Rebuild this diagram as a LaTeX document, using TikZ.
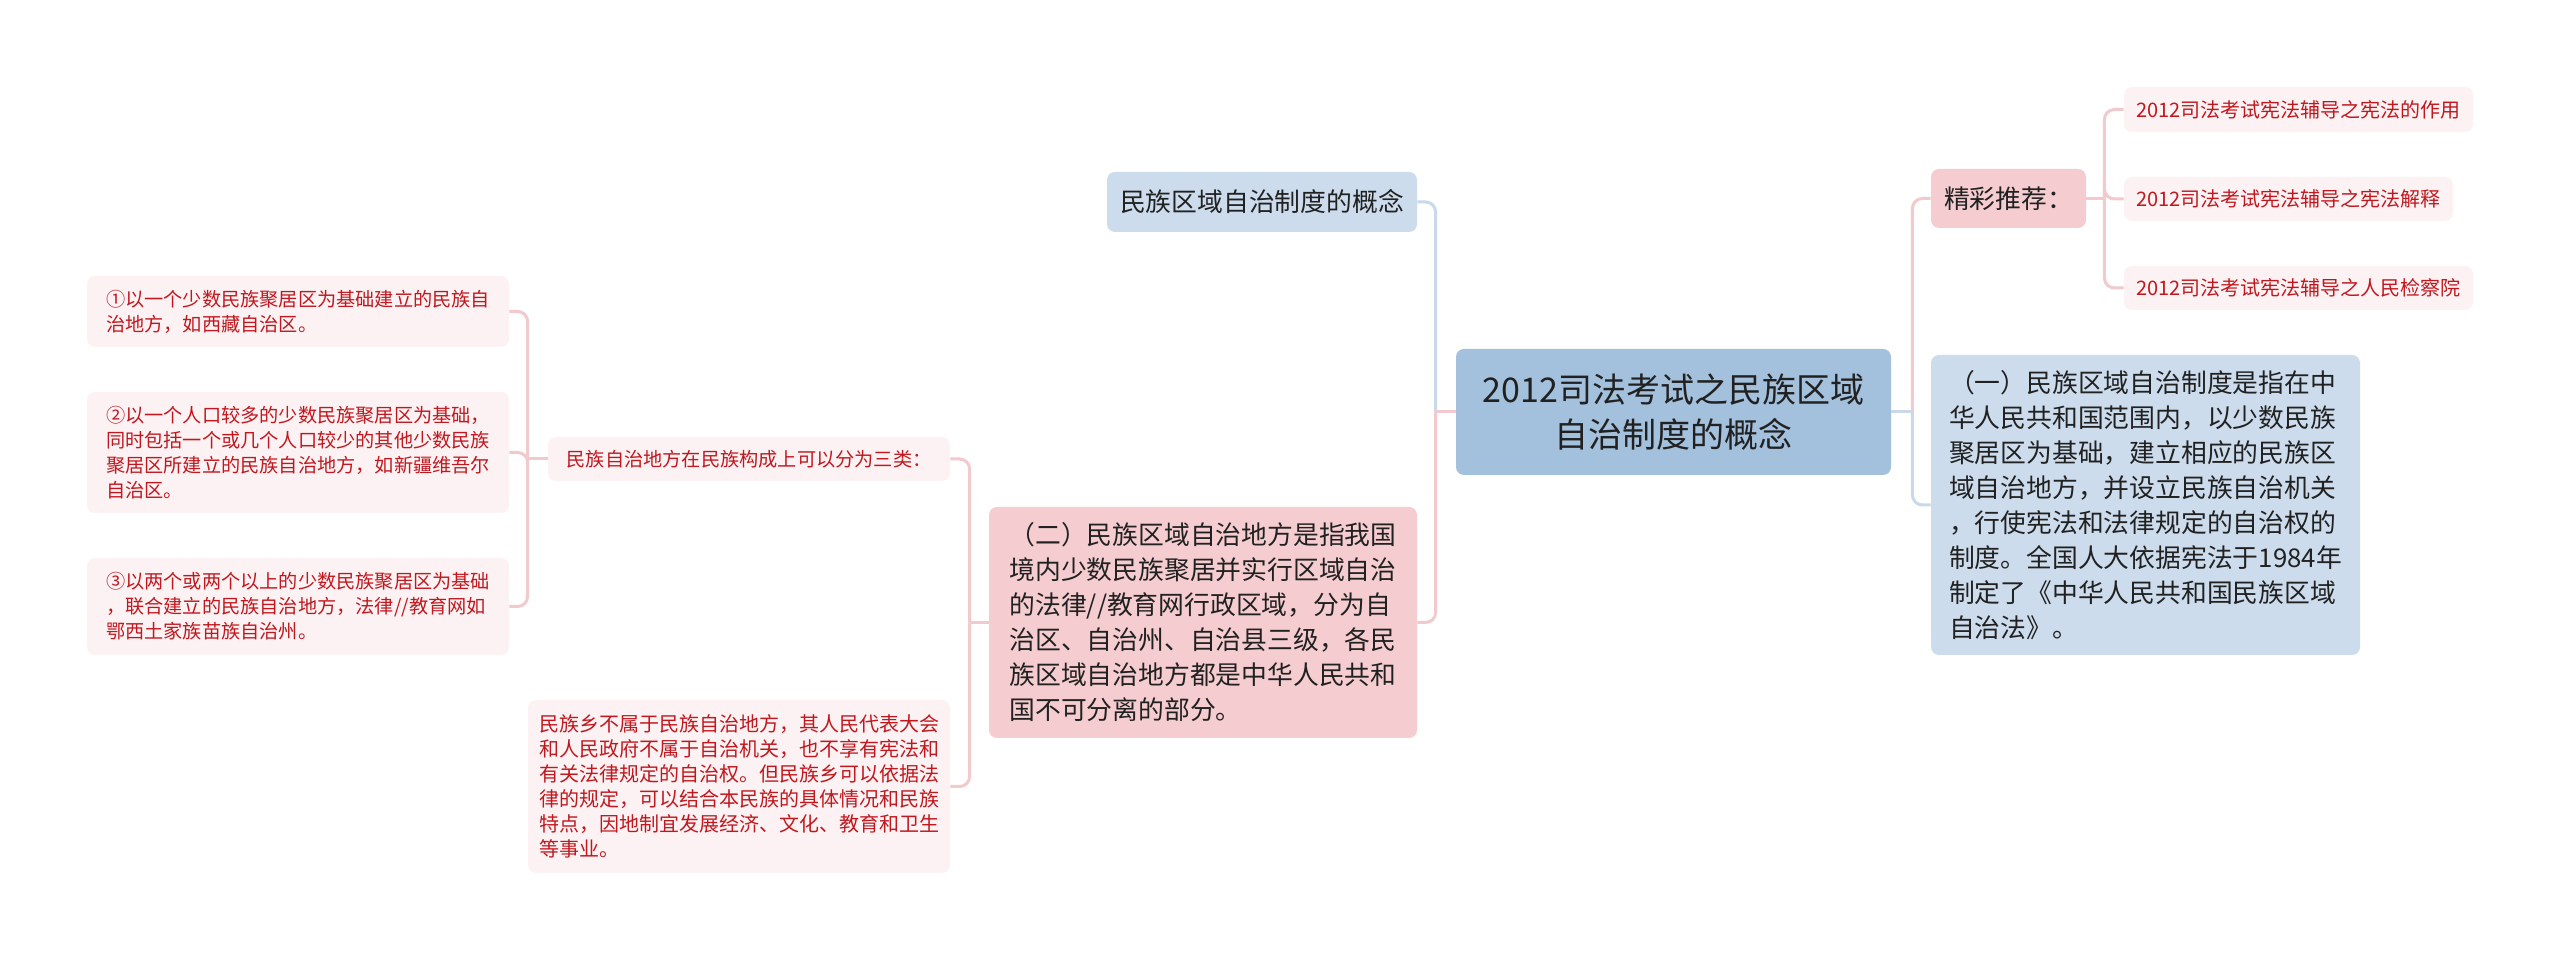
\documentclass[tikz,border=0pt]{standalone}
\usepackage{fontspec}
\setmainfont{Noto Sans CJK SC}
\usetikzlibrary{positioning}
\definecolor{rootblue}{HTML}{A3C0DC}
\definecolor{paleblue}{HTML}{CCDCEC}
\definecolor{palepink}{HTML}{F5CDD0}
\definecolor{leafpink}{HTML}{FDF2F3}
\definecolor{leafred}{HTML}{C0181F}
\definecolor{linkpink}{HTML}{F2C9CC}
\definecolor{linkblue}{HTML}{C9D9EA}
\tikzset{
box/.style={rounded corners=4pt, inner sep=0pt, align=left, text=black!87},
rootbox/.style={box, fill=rootblue, align=center,
  font=\fontsize{17pt}{22.5pt}\selectfont},
bluebox/.style={box, fill=paleblue, font=\fontsize{12.9pt}{17.5pt}\selectfont},
pinkbox/.style={box, fill=palepink, font=\fontsize{12.9pt}{17.5pt}\selectfont},
leafbox/.style={box, fill=leafpink, text=leafred,
  font=\fontsize{9.6pt}{12.5pt}\selectfont},
reclink/.style={box, fill=leafpink, text=leafred,
  font=\fontsize{10pt}{12pt}\selectfont},
pinklink/.style={draw=linkpink, line width=1.5pt, rounded corners=5pt},
bluelink/.style={draw=linkblue, line width=1.5pt, rounded corners=5pt}
}

\begin{document}
\begin{tikzpicture}[x=0.5pt, y=-0.5pt]
	\fill[white] (0,0) rectangle (2560,961);
	\useasboundingbox (0,0) rectangle (2560,961);
	\node[rootbox, minimum width=217.5pt, minimum height=63pt] (root) at (1673.5,412)
		{2012司法考试之民族区域\\自治制度的概念};
	\node[pinkbox, minimum width=77.5pt, minimum height=29.5pt] (jingcai) at (2008.5,198.5)
		{精彩推荐：};
	\node[reclink, minimum width=174.5pt, minimum height=22.5pt] (rec1) at (2298.5,109.5)
		{2012司法考试宪法辅导之宪法的作用};
	\node[reclink, minimum width=164.5pt, minimum height=22pt] (rec2) at (2288.5,199)
		{2012司法考试宪法辅导之宪法解释};
	\node[reclink, minimum width=174.5pt, minimum height=22pt] (rec3) at (2298.5,288)
		{2012司法考试宪法辅导之人民检察院};
	\node[bluebox, minimum width=214.5pt, minimum height=150pt] (def1) at (2145.5,505)
		{（一）民族区域自治制度是指在中\\华人民共和国范围内，以少数民族\\聚居区为基础，建立相应的民族区\\域自治地方，并设立民族自治机关\\，行使宪法和法律规定的自治权的\\制度。全国人大依据宪法于1984年\\制定了《中华人民共和国民族区域\\自治法》。};
	\node[bluebox, minimum width=155pt, minimum height=30pt] (concept) at (1262,202)
		{民族区域自治制度的概念};
	\node[pinkbox, minimum width=214pt, minimum height=115.5pt] (def2) at (1203,622.5)
		{（二）民族区域自治地方是指我国\\境内少数民族聚居并实行区域自治\\的法律//教育网行政区域，分为自\\治区、自治州、自治县三级，各民\\族区域自治地方都是中华人民共和\\国不可分离的部分。};
	\node[leafbox, minimum width=201pt, minimum height=22pt] (types) at (749,459)
		{民族自治地方在民族构成上可以分为三类：};
	\node[leafbox, minimum width=211pt, minimum height=86.5pt,
		font=\fontsize{10pt}{12.5pt}\selectfont] (township) at (739,786.5)
		{民族乡不属于民族自治地方，其人民代表大会\\和人民政府不属于自治机关，也不享有宪法和\\有关法律规定的自治权。但民族乡可以依据法\\律的规定，可以结合本民族的具体情况和民族\\特点，因地制宜发展经济、文化、教育和卫生\\等事业。};
	\node[leafbox, minimum width=211pt, minimum height=35.5pt] (t1) at (298,311.5)
		{①以一个少数民族聚居区为基础建立的民族自\\治地方，如西藏自治区。};
	\node[leafbox, minimum width=211pt, minimum height=60.5pt] (t2) at (298,452.5)
		{②以一个人口较多的少数民族聚居区为基础，\\同时包括一个或几个人口较少的其他少数民族\\聚居区所建立的民族自治地方，如新疆维吾尔\\自治区。};
	\node[leafbox, minimum width=211pt, minimum height=48.5pt] (t3) at (298,606.5)
		{③以两个或两个以上的少数民族聚居区为基础\\，联合建立的民族自治地方，法律//教育网如\\鄂西土家族苗族自治州。};

	\coordinate (rj) at ([xshift=10.5pt]root.east);
	\coordinate (lj) at ([xshift=-10pt]root.west);
	\coordinate (jj) at ([xshift=9pt]jingcai.east);
	\coordinate (dj) at ([xshift=-9.5pt]def2.west);
	\coordinate (tj) at ([xshift=-10pt]types.west);

	\draw[pinklink] (rj) |- (jingcai.west);
	\draw[bluelink] (rj) |- (def1.west);
	\draw[bluelink] (root.east) -- (rj);
	\draw[bluelink] (lj) |- (concept.east);
	\draw[pinklink] (lj) |- (def2.east);
	\draw[pinklink] (root.west) -- (lj);
	\foreach \r in {rec1,rec2,rec3}
		\draw[pinklink] (jj) |- (\r.west);
	\draw[pinklink] (jingcai.east) -- (jj);
	\draw[pinklink] (dj) |- (types.east);
	\draw[pinklink] (dj) |- (township.east);
	\draw[pinklink] (def2.west) -- (dj);
	\foreach \t in {t1,t2,t3}
		\draw[pinklink] (tj) |- (\t.east);
	\draw[pinklink] (types.west) -- (tj);
\end{tikzpicture}
\end{document}
